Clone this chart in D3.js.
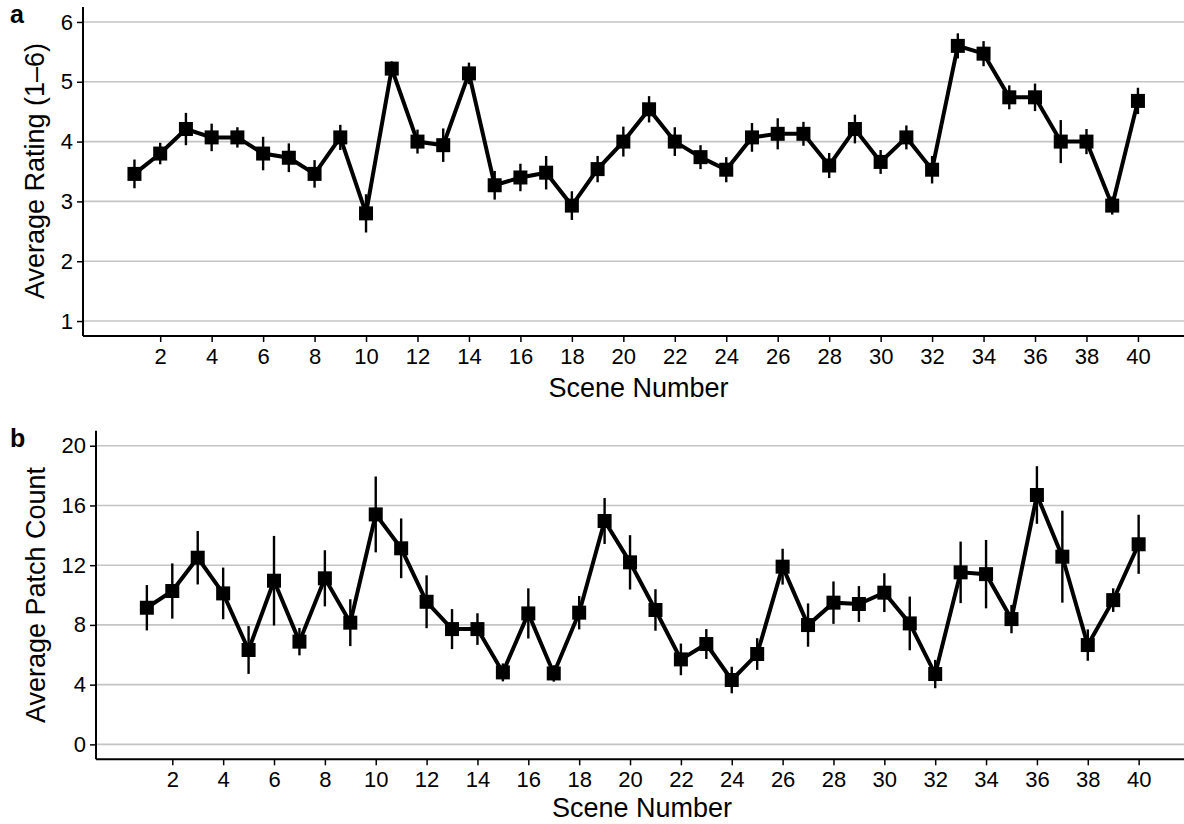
<!DOCTYPE html>
<html>
<head>
<meta charset="utf-8">
<script src="https://cdn.jsdelivr.net/npm/d3@7"></script>
<style>
  html, body { margin: 0; padding: 0; background: #fff; }
  svg { display: block; font-family: "Liberation Sans", Arial, Helvetica, sans-serif; }
</style>
</head>
<body>
<svg id="chart" width="1184" height="824"></svg>
<script>
// Scene numbers 1..40
const scenes = d3.range(1, 41);
const sceneTicks = d3.range(2, 41, 2);

// Panel a: average rating (1–6) per scene, with error half-widths
const ratingMean = [
  3.46, 3.80, 4.21, 4.07, 4.07, 3.80, 3.73, 3.46, 4.07, 2.80,
  5.22, 4.00, 3.94, 5.14, 3.27, 3.40, 3.48, 2.93, 3.54, 4.00,
  4.54, 4.00, 3.74, 3.53, 4.07, 4.13, 4.13, 3.60, 4.21, 3.66,
  4.07, 3.53, 5.60, 5.47, 4.74, 4.74, 4.00, 4.00, 2.93, 4.68
];
const ratingErr = [
  0.24, 0.18, 0.27, 0.23, 0.17, 0.28, 0.24, 0.23, 0.21, 0.32,
  0.12, 0.20, 0.28, 0.18, 0.24, 0.23, 0.28, 0.24, 0.22, 0.25,
  0.22, 0.24, 0.20, 0.21, 0.24, 0.26, 0.20, 0.21, 0.24, 0.20,
  0.20, 0.23, 0.21, 0.21, 0.20, 0.23, 0.36, 0.21, 0.15, 0.22
];
const ratingTicks = [1, 2, 3, 4, 5, 6];

// Panel b: average patch count per scene, with error half-widths
const patchMean = [
  9.15, 10.27, 12.50, 10.11, 6.32, 10.96, 6.88, 11.12, 8.15, 15.40,
  13.13, 9.55, 7.72, 7.72, 4.82, 8.77, 4.75, 8.82, 14.96, 12.19,
  9.00, 5.69, 6.72, 4.31, 6.05, 11.90, 7.99, 9.49, 9.40, 10.16,
  8.10, 4.71, 11.52, 11.40, 8.39, 16.70, 12.57, 6.65, 9.66, 13.40
];
const patchErr = [
  1.52, 1.85, 1.79, 1.73, 1.60, 3.00, 0.92, 1.88, 1.57, 2.54,
  2.00, 1.77, 1.34, 1.06, 0.60, 1.68, 0.55, 1.12, 1.54, 1.82,
  1.39, 1.06, 1.00, 0.89, 1.06, 1.20, 1.45, 1.42, 1.20, 1.30,
  1.80, 0.95, 2.06, 2.29, 0.95, 1.93, 3.08, 1.05, 0.79, 1.98
];
const patchTicks = [0, 4, 8, 12, 16, 20];

const svg = d3.select("#chart");
const W = 1184;

function panel(cfg) {
  const g = svg.append("g");
  const x = d3.scaleLinear().domain([-1, 42]).range(cfg.xRange);
  const y = d3.scaleLinear().domain(cfg.yDomain).range(cfg.yRange);
  const x0 = cfg.xRange[0];

  // horizontal gridlines
  g.append("g").selectAll("line").data(cfg.yTicks).join("line")
    .attr("x1", x0).attr("x2", W)
    .attr("y1", d => y(d)).attr("y2", d => y(d))
    .attr("stroke", "#c4c4c4").attr("stroke-width", 1.6);

  // x axis
  const xa = g.append("g")
    .attr("transform", `translate(0,${cfg.yRange[0]})`)
    .call(d3.axisBottom(x).tickValues(sceneTicks).tickFormat(d3.format("d"))
      .tickSize(6).tickPadding(6));
  xa.select(".domain").remove();
  xa.append("line").attr("x1", x0).attr("x2", W).attr("y1", 0).attr("y2", 0)
    .attr("stroke", "#000").attr("stroke-width", 2);
  xa.selectAll(".tick line").attr("stroke", "#000").attr("stroke-width", 1.5);
  xa.selectAll(".tick text").attr("fill", "#000")
    .style("font-size", "22px").attr("font-family", null);

  // y axis
  const ya = g.append("g")
    .attr("transform", `translate(${x0},0)`)
    .call(d3.axisLeft(y).tickValues(cfg.yTicks).tickFormat(d3.format("d"))
      .tickSize(6).tickPadding(4));
  ya.select(".domain").remove();
  ya.append("line").attr("x1", 0).attr("x2", 0)
    .attr("y1", cfg.yRange[1]).attr("y2", cfg.yRange[0])
    .attr("stroke", "#000").attr("stroke-width", 2);
  ya.selectAll(".tick line").attr("stroke", "#000").attr("stroke-width", 1.5);
  ya.selectAll(".tick text").attr("fill", "#000")
    .style("font-size", "22px").attr("font-family", null);

  // axis titles
  g.append("text")
    .attr("x", (x0 + W) / 2 + cfg.xTitleShift).attr("y", cfg.xTitleY)
    .attr("text-anchor", "middle").style("font-size", "27px")
    .text("Scene Number");
  g.append("text")
    .attr("transform", `translate(${cfg.yTitleX},${cfg.yTitleCY}) rotate(-90)`)
    .attr("text-anchor", "middle").style("font-size", "27px")
    .text(cfg.yTitle);

  // panel letter
  g.append("text")
    .attr("x", 10).attr("y", cfg.letterY)
    .style("font-size", "25px").style("font-weight", "bold")
    .text(cfg.letter);

  const pts = scenes.map((s, i) => ({ s, m: cfg.mean[i], e: cfg.err[i] }));

  // error bars
  g.append("g").selectAll("line").data(pts).join("line")
    .attr("x1", d => x(d.s)).attr("x2", d => x(d.s))
    .attr("y1", d => y(d.m - d.e)).attr("y2", d => y(d.m + d.e))
    .attr("stroke", "#000").attr("stroke-width", 2.4);

  // connecting line
  g.append("path").datum(pts)
    .attr("fill", "none").attr("stroke", "#000").attr("stroke-width", 4)
    .attr("stroke-linejoin", "miter")
    .attr("d", d3.line().x(d => x(d.s)).y(d => y(d.m)));

  // square markers
  const sz = 14;
  g.append("g").selectAll("rect").data(pts).join("rect")
    .attr("x", d => x(d.s) - sz / 2).attr("y", d => y(d.m) - sz / 2)
    .attr("width", sz).attr("height", sz).attr("fill", "#000");
}

panel({
  letter: "a", letterY: 23,
  mean: ratingMean, err: ratingErr, yTicks: ratingTicks,
  xRange: [83, 1189.4], yDomain: [0.75, 6.25], yRange: [336, 7],
  xTitleY: 397, xTitleShift: 5,
  yTitle: "Average Rating (1\u20136)", yTitleX: 44, yTitleCY: 171
});

panel({
  letter: "b", letterY: 447,
  mean: patchMean, err: patchErr, yTicks: patchTicks,
  xRange: [96, 1189.5], yDomain: [-1, 21], yRange: [759.3, 430.8],
  xTitleY: 817, xTitleShift: 2,
  yTitle: "Average Patch Count", yTitleX: 45, yTitleCY: 595
});
</script>
</body>
</html>
